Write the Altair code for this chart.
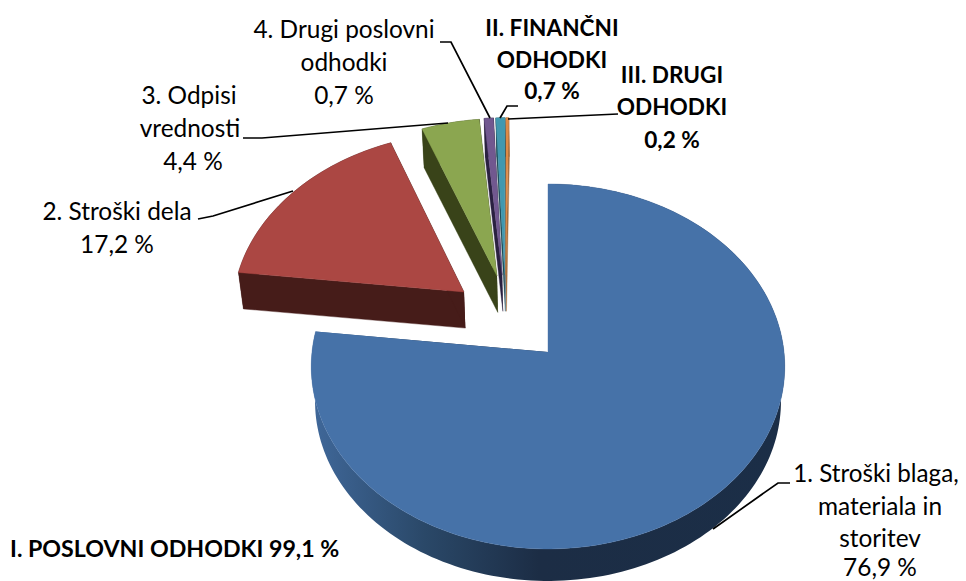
import numpy as np
import pandas as pd
import altair as alt

# ---- chart values -------------------------------------------------------
CATEGORIES = ["1. Stroški blaga, materiala in storitev", "2. Stroški dela", "3. Odpisi vrednosti",
              "4. Drugi poslovni odhodki", "II. FINANČNI ODHODKI", "III. DRUGI ODHODKI"]
VALUES = [76.9, 17.2, 4.4, 0.7, 0.7, 0.2]
TOP_COLORS = ["#4672A8", "#AB4743", "#8BA650", "#71588F", "#4198AF", "#DF8A45"]
WALL_COLORS = ["#1C2E47", "#461C19", "#394319", "#2A2040", "#1D4753", "#A9703F"]
# how far each slice is pulled out of the pie (in pie radii)
EXPLODE = [(0.0, 0.0), (-0.3655, 0.34), (-0.2235, 0.4334), (-0.201, 0.44), (-0.19, 0.44), (-0.185, 0.44)]

LABEL_TEXT = ["4. Drugi poslovni", "odhodki", "0,7 %",
              "II. FINANČNI", "ODHODKI", "0,7 %",
              "III. DRUGI", "ODHODKI", "0,2 %",
              "3. Odpisi", "vrednosti", "4,4 %",
              "2. Stroški dela", "17,2 %",
              "materiala in", "storitev", "76,9 %"]
LABEL_X = [344, 344, 344, 552, 552, 552, 672, 672, 672, 189, 190, 193, 117, 117, 880, 880, 880]
LABEL_Y = [31, 64, 97, 29, 61, 92, 76, 108, 141, 97, 130, 163, 213, 246, 508, 540, 569]
LABEL_BOLD = [0, 0, 0, 1, 1, 1, 1, 1, 1, 0, 0, 0, 0, 0, 0, 0, 0]
EDGE_LABEL = "1. Stroški blaga,"
TOTAL_LABEL = "I. POSLOVNI ODHODKI 99,1 %"

LEADERS = [
    [(713, 529), (778, 483), (790, 483)],
    [(198, 219), (213, 216), (293, 191)],
    [(243, 138), (262, 138), (448, 123)],
    [(440, 42), (451, 42), (490, 118)],
    [(518, 106), (507, 106), (500, 118)],
    [(618, 114), (508, 119)],
]

# ---- tilted-pie projection ------------------------------------------------
CX, CY, RX, RY, K = 548.0, 352.0, 236.0, 181.3, 0.0793
DROP_SCALE, DROP_Y = 0.984, 40.8


def project(u, v):
    w = 1 + K * v
    return CX + RX * u / w, CY - RY * v / w


def lower(x, y):
    return CX + (x - CX) * DROP_SCALE, y * DROP_SCALE + DROP_Y


rows = []
pid = 0


def add(points, kind, idx):
    global pid
    for i, (x, y) in enumerate(points):
        rows.append(dict(pid=pid, kind=kind, slice=idx, i=i, px=x, py=y))
    pid += 1


total = sum(VALUES)
start = 0.0
for idx, val in enumerate(VALUES):
    end = start + val / total * 360
    du, dv = EXPLODE[idx]
    ts = np.radians(np.linspace(start, end, max(3, int((end - start) / 1.5) + 2)))
    apex = project(du, dv)
    rim = [project(du + np.sin(t), dv + np.cos(t)) for t in ts]
    rim_low = [lower(*p) for p in rim]
    apex_low = lower(*apex)
    add(rim + rim_low[::-1], "wall", idx)
    add([apex, rim[0], rim_low[0], apex_low], "wall", idx)
    add([apex, rim[-1], rim_low[-1], apex_low], "wall", idx)
    add([apex] + rim, "top", idx)
    start = end

poly = pd.DataFrame(rows)

xs = alt.X("px:Q", scale=alt.Scale(domain=[8, 958], nice=False, zero=False), axis=None)
ys = alt.Y("py:Q", scale=alt.Scale(domain=[8, 581], nice=False, zero=False, reverse=True), axis=None)

BLUE_SIDE = alt.Gradient(
    gradient="linear", x1=0, x2=1, y1=0, y2=0,
    stops=[alt.GradientStop(offset=0.0, color="#40689A"),
           alt.GradientStop(offset=0.24, color="#2A4868"),
           alt.GradientStop(offset=0.48, color="#1C2D45"),
           alt.GradientStop(offset=1.0, color="#1B2E47")],
)

layers = []
for idx in range(len(VALUES)):
    for kind in ("wall", "top"):
        d = poly[(poly.slice == idx) & (poly.kind == kind)]
        col = TOP_COLORS[idx] if kind == "top" else WALL_COLORS[idx]
        if idx == 0 and kind == "wall":
            mark = alt.Chart(d).mark_line(fill=BLUE_SIDE, strokeOpacity=0, interpolate="linear")
        else:
            mark = alt.Chart(d).mark_line(fill=col, stroke=col, strokeWidth=0.4, interpolate="linear")
        layers.append(mark.encode(x=xs, y=ys, detail="pid:N", order=alt.Order("i:Q")))

lead = pd.DataFrame([dict(l=n, i=i, px=p[0], py=p[1]) for n, pts in enumerate(LEADERS) for i, p in enumerate(pts)])
layers.append(alt.Chart(lead).mark_line(color="#000000", strokeWidth=1.7).encode(
    x=xs, y=ys, detail="l:N", order=alt.Order("i:Q")))

FONT = "Lato"
FS = 24.4
FSB = 22.6
lab = pd.DataFrame(dict(text=LABEL_TEXT, px=LABEL_X, py=LABEL_Y, bold=LABEL_BOLD))
layers.append(alt.Chart(lab[lab.bold == 0]).mark_text(font=FONT, fontSize=FS, color="#000000", align="center",
                                                      baseline="middle").encode(x=xs, y=ys, text="text:N"))
layers.append(alt.Chart(lab[lab.bold == 1]).mark_text(font=FONT, fontSize=FSB, fontWeight="bold", color="#000000",
                                                      align="center", baseline="middle").encode(x=xs, y=ys, text="text:N"))
# the widest label has to stay inside the page's right edge
layers.append(alt.Chart(pd.DataFrame(dict(text=[EDGE_LABEL], px=[876], py=[475]))).mark_text(
    font=FONT, fontSize=24.2, color="#000000", align="center", baseline="middle").encode(x=xs, y=ys, text="text:N"))
layers.append(alt.Chart(pd.DataFrame(dict(text=[TOTAL_LABEL], px=[10], py=[550]))).mark_text(
    font=FONT, fontSize=23.2, fontWeight="bold", color="#000000", align="left", baseline="middle").encode(
    x=xs, y=ys, text="text:N"))

chart = alt.layer(*layers).properties(
    width=950, height=573, padding=0, background="#ffffff",
    autosize=alt.AutoSizeParams(type="none"),
).configure_view(stroke=None)

chart.save("out.html", embed_options={"renderer": "svg", "actions": False})
